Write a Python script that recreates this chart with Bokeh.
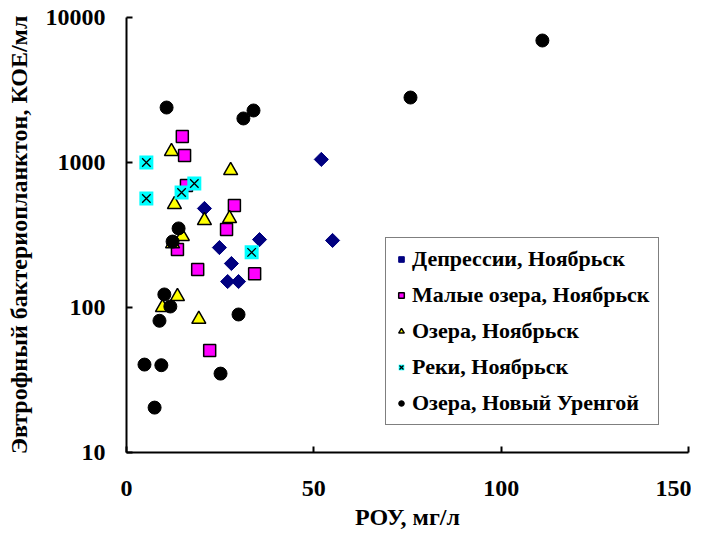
import math
from bokeh.plotting import figure
from bokeh.models import Range1d, FixedTicker, Legend, LegendItem
from bokeh.embed import file_html
from bokeh.resources import INLINE

# Data
dep_x = [52, 55, 20.8, 35.5, 24.8, 28, 27, 29.9]
dep_y = [1050, 290, 482, 294, 259, 201, 151, 151]

small_x = [14.9, 15.5, 16, 28.8, 26.7, 13.6, 19, 34.2, 22.2]
small_y = [1510, 1117, 693, 505, 345, 251, 183, 171, 50.5]

lake_x = [12, 27.8, 12.8, 20.8, 27.5, 14.9, 12.3, 13.6, 9.6, 19.3]
lake_y = [1190, 881, 513, 398, 411, 309, 275, 119, 100, 83]

river_x = [5.3, 5.3, 18.1, 14.7, 33.4]
river_y = [1000, 565, 716, 621, 240]

nu_x = [111, 75.8, 10.7, 33.9, 31.2, 13.9, 12.3, 10.1, 11.7, 8.8, 29.9, 4.8, 9.3, 25.1, 7.5]
nu_y = [6940, 2806, 2394, 2284, 2012, 351, 285, 123, 101.6, 81, 89.5, 40.4, 40, 35, 20.4]

x_ticks = [0, 50, 100, 150]
y_ticks = [10, 100, 1000, 10000]
y_tick_labels = ["10", "100", "1000", "10000"]

labels = ["Депрессии, Ноябрьск", "Малые озера, Ноябрьск", "Озера, Ноябрьск",
          "Реки, Ноябрьск", "Озера, Новый Уренгой"]

FONT = "Liberation Serif"

p = figure(width=691, height=532, output_backend="svg", toolbar_location=None,
           x_range=Range1d(0, 150), y_range=Range1d(10, 10000), y_axis_type="log",
           min_border_left=126, min_border_right=3, min_border_top=17, min_border_bottom=80)

p.outline_line_color = None
p.xgrid.grid_line_color = None
p.ygrid.grid_line_color = None
p.background_fill_color = "white"

for ax in (p.xaxis[0], p.yaxis[0]):
    ax.axis_line_width = 2
    ax.axis_line_color = "black"
    ax.major_tick_line_width = 2
    ax.major_tick_line_color = "black"
    ax.major_tick_in = 6
    ax.major_tick_out = 0
    ax.minor_tick_line_color = None
    ax.major_label_text_font = FONT
    ax.major_label_text_font_style = "bold"
    ax.major_label_text_font_size = "24px"
    ax.major_label_text_color = "black"
    ax.axis_label_text_font = FONT
    ax.axis_label_text_font_style = "bold"
    ax.axis_label_text_color = "black"
    ax.axis_label_text_font_size = "24px"

p.xaxis.ticker = FixedTicker(ticks=x_ticks)
p.yaxis.ticker = FixedTicker(ticks=y_ticks)
p.yaxis.major_label_overrides = {t: l for t, l in zip(y_ticks, y_tick_labels)}
p.xaxis.axis_label = "РОУ, мг/л"
p.yaxis.axis_label = "Эвтрофный бактериопланктон, КОЕ/мл"
p.xaxis.major_label_standoff = 28
p.yaxis.major_label_standoff = 21
p.xaxis.axis_label_standoff = 5
p.yaxis.axis_label_standoff = 11

r1 = p.scatter(dep_x, dep_y, marker="square", angle=math.pi / 4, size=10,
               fill_color="#000080", line_color="#000080")
r2 = p.scatter(small_x, small_y, marker="square", size=12, fill_color="#FF00FF",
               line_color="black", line_width=1.5)
r3 = p.scatter(lake_x, lake_y, marker="triangle", size=14, fill_color="#FFFF00",
               line_color="black", line_width=1.5)
r4a = p.scatter(river_x, river_y, marker="square", size=14, fill_color="#00FFFF", line_color=None)
r4b = p.scatter(river_x, river_y, marker="x", size=12, line_color="black", line_width=1.3)
r5 = p.scatter(nu_x, nu_y, marker="circle", size=13, fill_color="black", line_color="black")

legend = Legend(items=[
    LegendItem(label=labels[0], renderers=[r1]),
    LegendItem(label=labels[1], renderers=[r2]),
    LegendItem(label=labels[2], renderers=[r3]),
    LegendItem(label=labels[3], renderers=[r4a, r4b]),
    LegendItem(label=labels[4], renderers=[r5]),
], location=(259, 27))
legend.label_text_font = FONT
legend.label_text_font_style = "bold"
legend.label_text_font_size = "22px"
legend.label_text_color = "black"
legend.glyph_width = 14
legend.glyph_height = 22
legend.label_height = 22
legend.spacing = 10
legend.padding = 8
legend.margin = 0
legend.label_standoff = 4
legend.border_line_color = "black"
legend.border_line_width = 1
legend.background_fill_alpha = 1
p.add_layout(legend, "center")

open("out.html", "w").write(file_html(p, INLINE))
